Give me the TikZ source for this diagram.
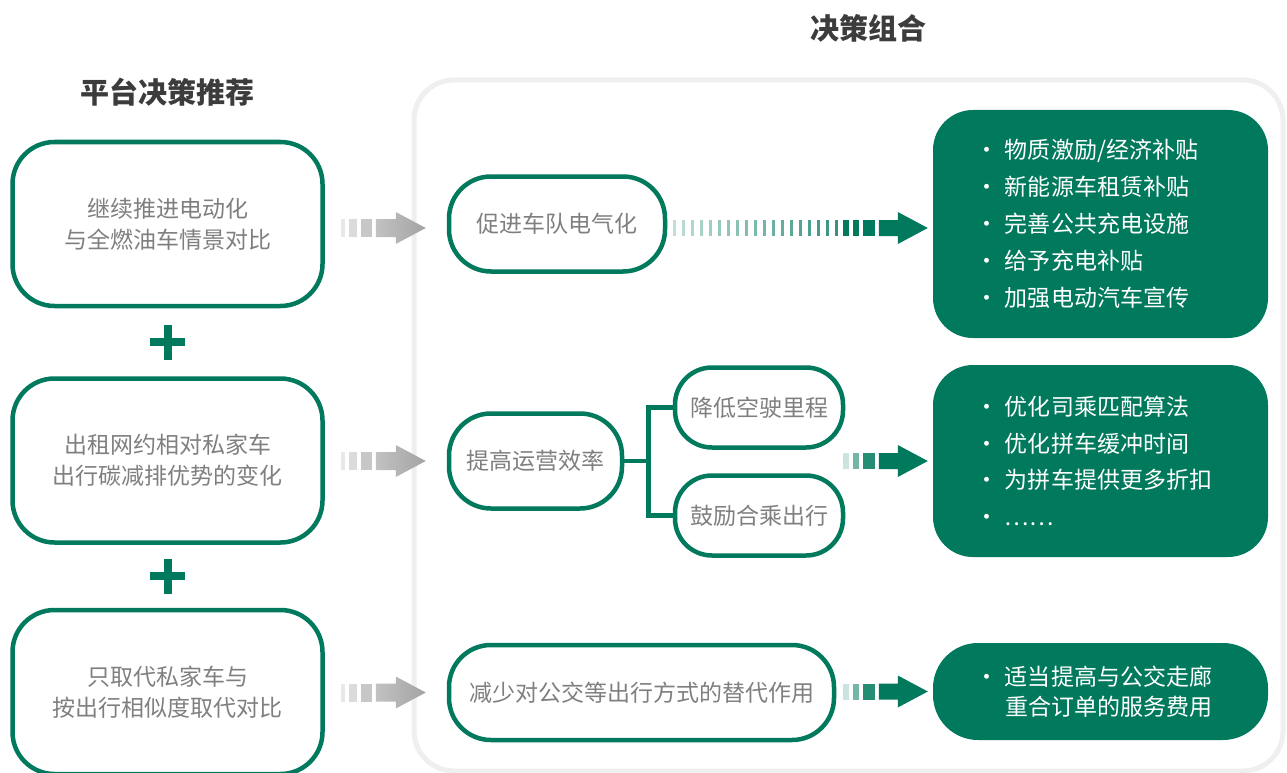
\documentclass[tikz,border=0pt]{standalone}
\usepackage{fontspec}
\setmainfont{Noto Sans CJK SC}
\usepackage{tikz}
\usetikzlibrary{calc, positioning}

\definecolor{dgreen}{HTML}{00795D}
\definecolor{txtgray}{HTML}{7F7F7F}
\definecolor{titlegray}{HTML}{3C3C3C}
\definecolor{framegray}{HTML}{EFEFEF}

\newcommand{\dotitem}{\makebox[20pt][l]{\kern-9.5pt·}}

% fading block arrows, #1 = tip
\newcommand{\grayarrow}[1]{%
    \begin{scope}[shift={(#1)}]
        \fill[gray!18] (-85,-9) rectangle (-81,9);
        \fill[gray!28] (-77,-9) rectangle (-69,9);
        \fill[gray!44] (-65,-9) rectangle (-54,9);
        \shade[left color=gray!48, right color=gray!72]
            (-50,-9) -- (-30,-9) -- (-30,-16) -- (0,0) -- (-30,16) -- (-30,9) -- (-50,9) -- cycle;
    \end{scope}}
\newcommand{\greenarrow}[4]{%
    \begin{scope}[shift={(#1)}]
        \fill[#2] (-85,-8) rectangle (-79,8);
        \fill[#3] (-75,-8) rectangle (-69,8);
        \fill[#4] (-65,-8) rectangle (-53,8);
        \fill[dgreen]
            (-49,-8) -- (-30,-8) -- (-30,-16) -- (0,0) -- (-30,16) -- (-30,8) -- (-49,8) -- cycle;
    \end{scope}}

\begin{document}
\begin{tikzpicture}[x=1pt, y=-1pt,
    scenario/.style={draw=dgreen, line width=4.5pt, rounded corners=42pt,
        minimum width=310pt, minimum height=164pt, align=center,
        text=txtgray, font=\fontsize{23}{31}\selectfont},
    measure/.style={draw=dgreen, line width=4.5pt, rounded corners=42pt,
        minimum height=95pt, text=txtgray, font=\fontsize{23}{31}\selectfont},
    submeasure/.style={measure, rounded corners=37pt, minimum width=168pt, minimum height=80pt},
    policy/.style={fill=dgreen, rounded corners=40pt, minimum width=335pt,
        text width=231pt, align=left, text=white},
    title/.style={font=\fontsize{29}{34}\selectfont\bfseries, text=titlegray},
    link/.style={draw=dgreen, line width=4.5pt}]

    \useasboundingbox[fill=white] (0,0) rectangle (1287,773);

    % titles and frame
    \node[title] (lefttitle) at (167,92) {平台决策推荐};
    \node[title] (righttitle) at (868,28) {决策组合};
    \draw[framegray, line width=5pt, rounded corners=40pt] (414,80) rectangle (1283,771);

    % scenario boxes
    \node[scenario] (scen1) at (167.5,224) {继续推进电动化\\与全燃油车情景对比};
    \node[scenario] (scen2) at (167.5,460.5) {出租网约相对私家车\\出行碳减排优势的变化};
    \node[scenario] (scen3) at (167.5,692) {只取代私家车与\\按出行相似度取代对比};

    % plus signs
    \foreach \a/\b in {scen1/scen2, scen2/scen3} {
        \coordinate (plus) at ($(\a.south)!0.5!(\b.north)$);
        \draw[dgreen, line width=8pt] ($(plus)+(-17.5,0)$) -- ($(plus)+(17.5,0)$)
            ($(plus)+(0,-17.5)$) -- ($(plus)+(0,17.5)$);
    }

    % measures
    \node[measure, minimum width=216pt] (elec) at (557,224) {促进车队电气化};
    \node[measure, minimum width=173pt] (effic) at (535.5,461) {提高运营效率};
    \node[submeasure] (empty) at (759,407.5) {降低空驶里程};
    \node[submeasure] (pool) at (759,515.5) {鼓励合乘出行};
    \node[measure, minimum width=385pt] (transit) at (641.5,692.5) {减少对公交等出行方式的替代作用};

    \coordinate (fork) at ($(effic.east)+(24,0)$);
    \draw[link] (effic.east) -- (fork) |- (empty.west);
    \draw[link] (fork) |- (pool.west);

    % policy boxes
    \node[policy, minimum height=228pt, font=\fontsize{23}{37}\selectfont] (charge) at (1100.5,224)
        {\dotitem 物质激励/经济补贴\\\dotitem 新能源车租赁补贴\\\dotitem 完善公共充电设施\\\dotitem 给予充电补贴\\\dotitem 加强电动汽车宣传};
    \node[policy, minimum height=192pt, font=\fontsize{23}{36.5}\selectfont] (rides) at (1100.5,461)
        {\dotitem 优化司乘匹配算法\\\dotitem 优化拼车缓冲时间\\\dotitem 为拼车提供更多折扣\\\dotitem ……};
    \node[policy, minimum height=97pt, rounded corners=45pt, font=\fontsize{23}{30}\selectfont] (fares) at (1100.5,691.5)
        {\dotitem 适当提高与公交走廊\\\makebox[20pt]{}重合订单的服务费用};

    % arrows scenario -> measure
    \grayarrow{$(elec.west)+(-21,4)$}
    \foreach \m in {effic, transit}
        \grayarrow{$(\m.west)+(-21,0)$};

    % arrows measure -> policy
    \coordinate (tip1) at ($(charge.west)+(-5,4)$);
    \foreach \k in {0,...,18} {
        \pgfmathsetmacro\pct{25+3*\k}
        \fill[dgreen!\pct] ($(tip1)+({-255+9*\k},-8)$) rectangle ++(3,16);
    }
    \greenarrow{tip1}{dgreen}{dgreen}{dgreen}
    \greenarrow{$(rides.west)+(-5,0)$}{dgreen!20}{dgreen!55}{dgreen!85}
    \greenarrow{$(fares.west)+(-5,0)$}{dgreen!20}{dgreen!55}{dgreen!85}
\end{tikzpicture}
\end{document}
